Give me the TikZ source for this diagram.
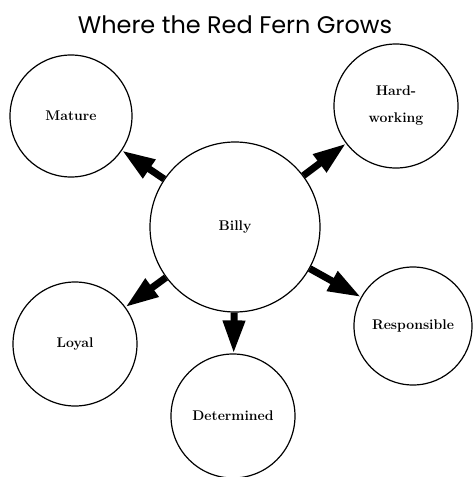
\documentclass[tikz,border=0pt]{standalone}
\usepackage{fontspec}
\newfontfamily\titlefont{Poppins}
\usetikzlibrary{arrows.meta}
\tikzstyle{trait}=[circle, draw=black, line width=1.2pt, fill=white, inner sep=0pt, align=center, font=\fontsize{14}{27}\selectfont\bfseries, anchor=center]
\tikzstyle{annot} = [align=center]
\tikzstyle{fatarrow}=[line width=7pt, -{Triangle[length=33pt,width=21pt]}]

\begin{document}
\begin{tikzpicture}[x=1pt, y=-1pt]
	\useasboundingbox (0,0) rectangle (472,477);

	\node[annot, font=\titlefont\fontsize{24}{26}\selectfont] (title) at (235,25) {Where the Red Fern Grows};

	\node[trait, minimum size=170pt](billy) at (235,227){Billy};
	\node[trait, minimum size=122pt](mature) at (71,116){Mature};
	\node[trait, minimum size=124pt](hard) at (396,106){Hard-\\working};
	\node[trait, minimum size=118pt](resp) at (413,326){Responsible};
	\node[trait, minimum size=124pt](loyal) at (75,344){Loyal};
	\node[trait, minimum size=124pt](determ) at (233,416){Determined};

	\draw[fatarrow] (billy) -- (mature);
	\draw[fatarrow] (billy) -- (hard);
	\draw[fatarrow] (billy) -- (resp);
	\draw[fatarrow] (billy) -- (loyal);
	\draw[fatarrow] (billy) -- (determ);

\end{tikzpicture}
\end{document}
